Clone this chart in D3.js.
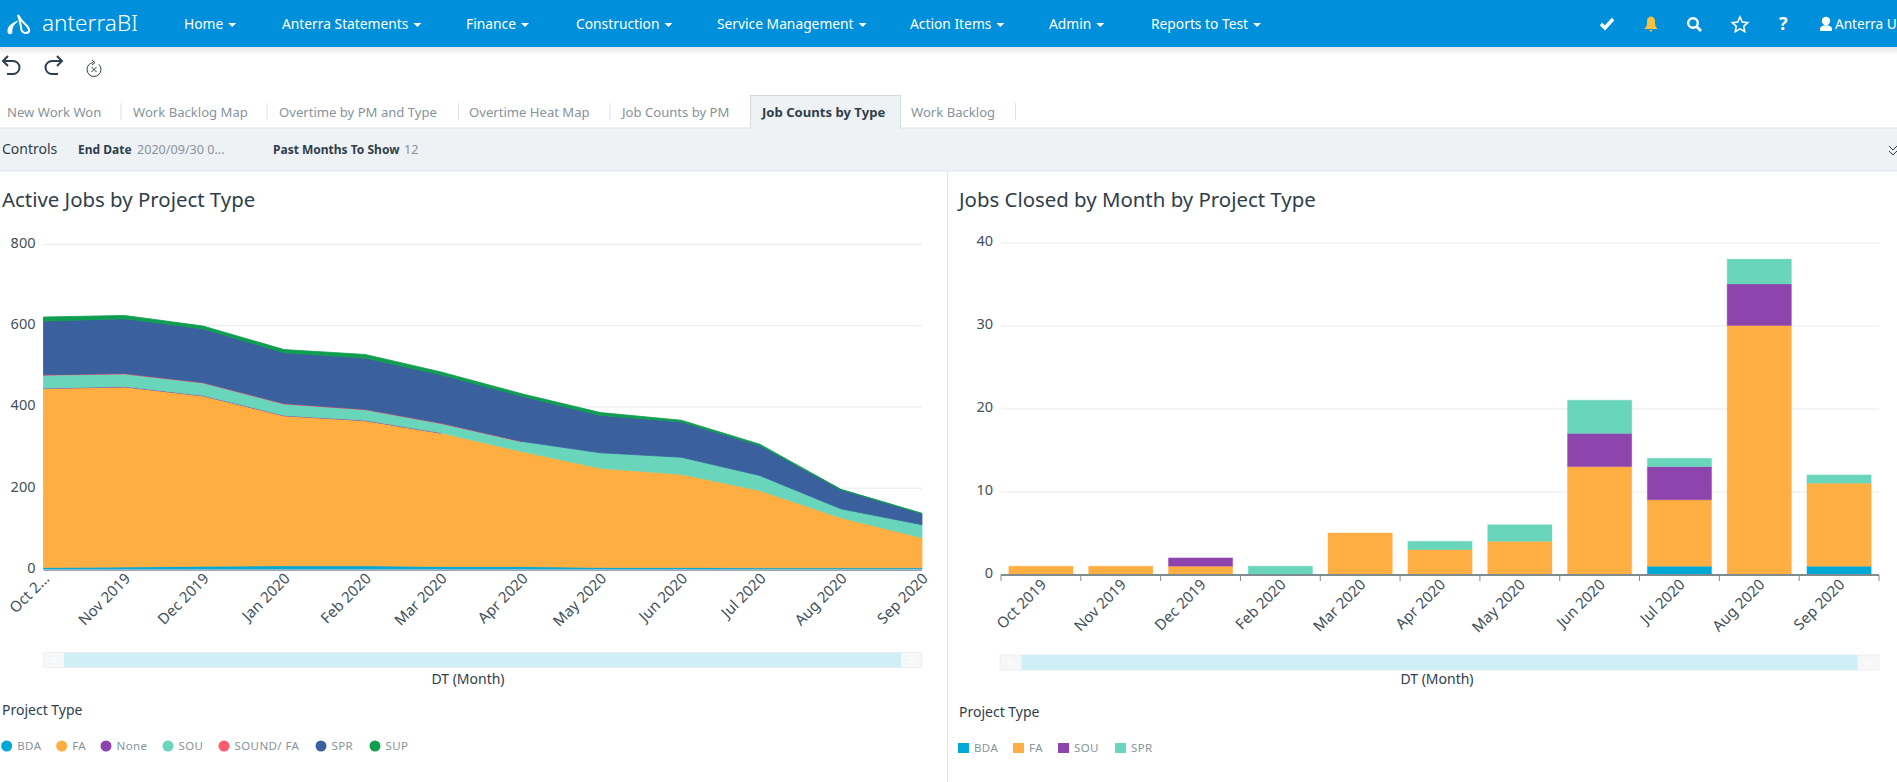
<!DOCTYPE html>
<html>
<head>
<meta charset="utf-8">
<script src="https://cdn.jsdelivr.net/npm/d3@7"></script>
<style>
  html,body{margin:0;padding:0;background:#fff;overflow:hidden}
  svg{display:block;font-family:"Noto Sans",sans-serif}
  .axis path{display:none}
  .axis text{fill:#3f4f5c;font-family:"Noto Sans",sans-serif}
</style>
</head>
<body>
<svg id="page" width="1897" height="782"></svg>
<script>
'use strict';

// top bar and tabs
var navItems = ['Home','Anterra Statements','Finance','Construction','Service Management','Action Items','Admin','Reports to Test'];
var navStarts = [184,282,466,576,717,910,1049,1151];
var tabs = ['New Work Won','Work Backlog Map','Overtime by PM and Type','Overtime Heat Map','Job Counts by PM','Job Counts by Type','Work Backlog'];
var tabStarts = [7,133,279,469,622,762,911];
var tabSeps = [121,267,458.5,610,1015.5];

// active jobs, stacked area
var areaMonths = ['2019-10-01','2019-11-01','2019-12-01','2020-01-01','2020-02-01','2020-03-01','2020-04-01','2020-05-01','2020-06-01','2020-07-01','2020-08-01','2020-09-01'];
var areaTicks = ['Oct 2...','Nov 2019','Dec 2019','Jan 2020','Feb 2020','Mar 2020','Apr 2020','May 2020','Jun 2020','Jul 2020','Aug 2020','Sep 2020'];
var areaKeys = ['BDA','FA','None','SOU','SOUND/ FA','SPR','SUP'];
var areaBDA = [4,5,7,8,8,6,6,4,4,3,3,3];
var areaFA = [440,443,419,369,357,328,283,244,229,190,123,74];
var areaNone = [1,1,1,1,1,1,0,0,0,0,0,0];
var areaSOU = [32,31,31,28,26,23,24,38,42,37,22,32];
var areaSound = [1,1,1,1,1,1,1,0,0,0,0,0];
var areaSPR = [132,135,132,125,126,119,111,92,87,74,47,27];
var areaSUP = [10,8,7,8,9,7,6,7,4,3,1,1];
var areaColors = ['#00a8d8','#ffae42','#8e44ad','#69d5ba','#ff5a6e','#3a619e','#0f9d4f'];
var areaLegendX = [6.7,61.7,106,168,224,321,375];

// jobs closed, stacked bars
var barMonths = ['Oct 2019','Nov 2019','Dec 2019','Feb 2020','Mar 2020','Apr 2020','May 2020','Jun 2020','Jul 2020','Aug 2020','Sep 2020'];
var barKeys = ['BDA','FA','SOU','SPR'];
var barBDA = [0,0,0,0,0,0,0,0,1,0,1];
var barFA = [1,1,1,0,5,3,4,13,8,30,10];
var barSOU = [0,0,1,0,0,0,0,4,4,5,0];
var barSPR = [0,0,0,1,0,1,2,4,1,3,1];
var barColors = ['#00a8d8','#ffae42','#8e44ad','#69d5ba'];
var barLegendX = [958,1013,1058,1115];

var svg = d3.select('#page');
var ink = '#2f3e4b', grey = '#87939c';

function drawChrome(){
  var shadow = svg.append('defs').append('linearGradient').attr('id','navShadow').attr('x2',0).attr('y2',1);
  shadow.append('stop').attr('offset',0).attr('stop-color','#e4e7ea');
  shadow.append('stop').attr('offset',1).attr('stop-color','#fff');
  svg.append('rect').attr('y',47).attr('width',1897).attr('height',8).attr('fill','url(#navShadow)');
  svg.append('rect').attr('width',1897).attr('height',47).attr('fill','#008fdb');

  // logo
  svg.append('path').attr('d','M8 33Q6 25 18 21Q11 26 12 33Q10 35 8 33Z').attr('fill','#fff').attr('stroke','#fff').attr('stroke-width',.6);
  svg.append('path').attr('d','M18 15Q21 21 27 26Q32 32 26 33Q21 33 21 27Q20 21 18 15Z').attr('fill','none').attr('stroke','#fff').attr('stroke-width',2);
  svg.append('text').attr('x',42).attr('y',31).attr('fill','#fff').style('font-size','22.5px').style('font-weight',300).text('anterraBI');

  navItems.forEach(function(t,i){
    var el = svg.append('text').attr('x',navStarts[i]).attr('y',29).attr('fill','#fff').style('font-size','13.8px').text(t);
    var e = navStarts[i]+el.node().getComputedTextLength()+5;
    svg.append('path').attr('d','M'+e+' 23h8l-4 4z').attr('fill','#fff');
  });

  // right icons
  svg.append('path').attr('d','M1601 24l4 4 8-9').attr('fill','none').attr('stroke','#fff').attr('stroke-width',3.4);
  svg.append('path').attr('d','M1644 29c3-2 3-5 3-8 0-6 8-6 8 0 0 3 0 6 3 8zM1649 30h4l-2 2z').attr('fill','#f6c244');
  svg.append('circle').attr('cx',1693).attr('cy',23).attr('r',4.8).attr('fill','none').attr('stroke','#fff').attr('stroke-width',2.4);
  svg.append('path').attr('d','M1697 27l4 4').attr('stroke','#fff').attr('stroke-width',3);
  svg.append('path').attr('d','M1740 17l2.3 5 5.4.6-4 3.7 1.1 5.3-4.8-2.7-4.8 2.7 1.1-5.3-4-3.7 5.4-.6z').attr('fill','none').attr('stroke','#fff').attr('stroke-width',1.6);
  svg.append('text').attr('x',1779).attr('y',30).attr('fill','#fff').style('font-size','18px').style('font-weight',700).text('?');
  svg.append('circle').attr('cx',1826).attr('cy',21).attr('r',4.2).attr('fill','#fff');
  svg.append('path').attr('d','M1820 31v-2c0-5 12-5 12 0v2z').attr('fill','#fff');
  svg.append('text').attr('x',1835).attr('y',29).attr('fill','#fff').style('font-size','13.6px').text('Anterra U');

  // undo, redo, reset
  var hist = svg.append('g').attr('fill','none').attr('stroke','#2f3e4b').attr('stroke-width',2);
  hist.append('path').attr('d','M7 74h6a6.5 6.5 0 0 0 0-13H3M8 56l-5 5 5 5');
  hist.append('path').attr('d','M58 74h-6a6.5 6.5 0 0 1 0-13h10M57 56l5 5-5 5');
  hist.append('circle').attr('cx',94).attr('cy',69.5).attr('r',7).attr('stroke-width',1).attr('stroke-dasharray','32 6');
  hist.append('path').attr('d','M91.5 67l5 5M96.5 67l-5 5M92 60l3 2.5-3 2.5').attr('stroke-width',1);

  // tabs
  svg.append('rect').attr('y',128).attr('width',1897).attr('height',43).attr('fill','#eff2f5');
  svg.append('line').attr('x1',0).attr('x2',1897).attr('y1',128).attr('y2',128).attr('stroke','#dfe3e7');
  svg.append('rect').attr('x',750.5).attr('y',95.5).attr('width',150).attr('height',33).attr('fill','#eff2f5').attr('stroke','#d5dbe0');
  svg.append('rect').attr('x',751).attr('y',127).attr('width',149).attr('height',3).attr('fill','#eff2f5');
  tabs.forEach(function(t,i){
    svg.append('text').attr('x',tabStarts[i]).attr('y',117)
      .attr('fill',i===5?ink:grey).style('font-size','13.1px').style('font-weight',i===5?700:400).text(t);
  });
  tabSeps.forEach(function(s){
    svg.append('line').attr('x1',s).attr('x2',s).attr('y1',103).attr('y2',120).attr('stroke','#dfe3e7');
  });

  // controls
  svg.append('text').attr('x',2).attr('y',154).attr('fill',ink).style('font-size','14px').text('Controls');
  svg.append('text').attr('x',78).attr('y',154).attr('fill',ink).style('font-size','12px').style('font-weight',700).text('End Date');
  svg.append('text').attr('x',137).attr('y',154).attr('fill',grey).style('font-size','12.6px').text('2020/09/30 0...');
  svg.append('text').attr('x',273).attr('y',154).attr('fill',ink).style('font-size','12px').style('font-weight',700).text('Past Months To Show');
  svg.append('text').attr('x',404).attr('y',154).attr('fill',grey).style('font-size','12.6px').text('12');
  svg.append('path').attr('d','M1889 146l4 4 4-4M1889 151l4 4 4-4').attr('fill','none').attr('stroke',ink);

  svg.append('line').attr('x1',0).attr('x2',1897).attr('y1',171).attr('y2',171).attr('stroke','#dfe3e7');
  svg.append('line').attr('x1',947.5).attr('x2',947.5).attr('y1',171).attr('y2',782).attr('stroke','#dfe3e7');
}

function panelTitle(x,t){
  svg.append('text').attr('x',x).attr('y',207).attr('fill',ink).style('font-size','20.4px').text(t);
}

function grid(y,ticks,x0,x1){
  var g = svg.append('g').attr('class','axis').attr('transform','translate('+x0+',0)')
    .call(d3.axisLeft(y).tickValues(ticks).tickSize(0).tickPadding(8));
  g.selectAll('text').style('font-size','14.5px').attr('dy','.24em');
  svg.append('g').selectAll('line').data(ticks.slice(1)).enter().append('line')
    .attr('x1',x0).attr('x2',x1).attr('y1',function(d){return y(d)+.5;}).attr('y2',function(d){return y(d)+.5;})
    .attr('stroke','#e6eaec');
}

function slider(x0,x1,y0,cx,sx0,sx1){
  svg.append('rect').attr('x',x0).attr('y',y0).attr('width',x1-x0).attr('height',15).attr('fill','#f6f7f8').attr('stroke','#eef0f2');
  svg.append('rect').attr('x',sx0).attr('y',y0).attr('width',sx1-sx0).attr('height',15).attr('fill','#cfeef6');
  [x0+(sx0-x0)/2,x1-(x1-sx1)/2].forEach(function(h){
    svg.append('path').attr('d','M'+(h-3)+' '+(y0+6)+'h6M'+(h-3)+' '+(y0+9)+'h6').attr('stroke','#fff');
  });
  svg.append('text').attr('x',cx).attr('y',684).attr('text-anchor','middle').attr('fill',ink).style('font-size','14px').text('DT (Month)');
}

function legend(x,titleY,rowY,keys,colors,starts,round){
  svg.append('text').attr('x',x).attr('y',titleY).attr('fill',ink).style('font-size','14px').text('Project Type');
  keys.forEach(function(k,i){
    if (round) svg.append('circle').attr('cx',starts[i]).attr('cy',rowY-4).attr('r',5.5).attr('fill',colors[i]);
    else svg.append('rect').attr('x',starts[i]).attr('y',rowY-9).attr('width',11).attr('height',10).attr('fill',colors[i]);
    svg.append('text').attr('x',starts[i]+(round?10.5:16)).attr('y',rowY).attr('fill',grey).style('font-size','11.5px').style('letter-spacing','.4px').text(k);
  });
}

function slantedLabels(g){
  g.selectAll('text').style('font-size','15px')
    .attr('text-anchor','end').attr('dx','2px').attr('dy','10px')
    .attr('transform',function(){ return 'rotate(-45 0 6)'; });
}

function drawArea(){
  var x0 = 43.5, x1 = 922;
  var dates = areaMonths.map(function(d){ return new Date(d); });
  var x = d3.scaleUtc().domain([dates[0],dates[dates.length-1]]).range([x0,x1]);
  var y = d3.scaleLinear().domain([0,800]).range([569,243.9]);

  panelTitle(2,'Active Jobs by Project Type');
  grid(y,[0,200,400,600,800],x0,x1);

  var rows = dates.map(function(d,i){
    return {date:d,'BDA':areaBDA[i],'FA':areaFA[i],'None':areaNone[i],'SOU':areaSOU[i],'SOUND/ FA':areaSound[i],'SPR':areaSPR[i],'SUP':areaSUP[i]};
  });
  var series = d3.stack().keys(areaKeys)(rows);
  var area = d3.area()
    .defined(function(d){return d[1]>d[0];})
    .x(function(d){return x(d.data.date);})
    .y0(function(d){return y(d[0]);})
    .y1(function(d){return y(d[1]);});

  svg.append('g').selectAll('path').data(series).enter().append('path')
    .attr('d',area)
    .attr('fill',function(d,i){return areaColors[i];})
    .attr('stroke',function(d,i){return areaColors[i];})
    .attr('stroke-width',.8);

  svg.append('line').attr('x1',x0).attr('x2',x1).attr('y1',570.2).attr('y2',570.2).attr('stroke','#6f7d86').attr('stroke-width',1);

  var g = svg.append('g').attr('class','axis').attr('transform','translate(0,570)')
    .call(d3.axisBottom(x).tickValues(dates).tickSize(0).tickFormat(function(d,i){return areaTicks[i];}));
  slantedLabels(g);

  slider(43.5,922,652.5,468,64,901);
  legend(2,714.5,750,areaKeys,areaColors,areaLegendX,true);
}

function drawBars(){
  var x0 = 1001, x1 = 1879;
  var x = d3.scaleBand().domain(barMonths).range([x0,x1]).paddingInner(.195).paddingOuter(.0975);
  var y = d3.scaleLinear().domain([0,40]).range([574.5,242.5]);

  panelTitle(959,'Jobs Closed by Month by Project Type');
  grid(y,[0,10,20,30,40],x0,x1);

  var rows = barMonths.map(function(m,i){
    return {month:m,'BDA':barBDA[i],'FA':barFA[i],'SOU':barSOU[i],'SPR':barSPR[i]};
  });
  var series = d3.stack().keys(barKeys)(rows);
  svg.append('g').selectAll('g').data(series).enter().append('g')
    .attr('fill',function(d,i){return barColors[i];})
    .attr('stroke',function(d,i){return barColors[i];})
    .attr('stroke-opacity',.35)
    .selectAll('rect').data(function(d){return d.filter(function(v){return v[1]>v[0];});}).enter().append('rect')
    .attr('x',function(d){return x(d.data.month);})
    .attr('width',x.bandwidth())
    .attr('y',function(d){return y(d[1]);})
    .attr('height',function(d){return y(d[0])-y(d[1]);});

  // base line with ticks between the months
  var step = x.step();
  svg.append('line').attr('x1',x0).attr('x2',x1).attr('y1',575).attr('y2',575).attr('stroke','#7f8c8d').attr('stroke-width',2);
  svg.append('g').selectAll('line').data(d3.range(barMonths.length+1)).enter().append('line')
    .attr('x1',function(i){return x0+i*step;}).attr('x2',function(i){return x0+i*step;})
    .attr('y1',575).attr('y2',581).attr('stroke','#7f8c8d');

  var g = svg.append('g').attr('class','axis').attr('transform','translate(0,576)')
    .call(d3.axisBottom(x).tickSize(0));
  slantedLabels(g);

  slider(1000,1879,655,1437,1021.5,1857.5);
  legend(959,716.5,752,barKeys,barColors,barLegendX,false);
}

drawChrome();
drawArea();
drawBars();
</script>
</body>
</html>
